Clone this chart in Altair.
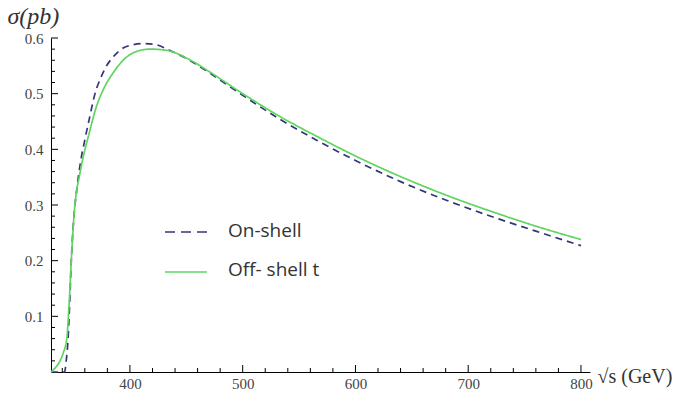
import altair as alt
import pandas as pd

# On-shell (dashed) curve: sqrt(s) [GeV] and sigma [pb]
on_x = [330, 340, 342, 343.5, 345, 346.5, 348, 350, 353, 356, 360, 364, 369, 374, 379, 386,
        394, 403, 412, 423, 435, 453, 470, 500, 533, 566, 600, 640, 680, 727, 760, 800]
on_y = [0.0, 0.0, 0.0, 0.02, 0.055, 0.12, 0.2, 0.27, 0.33, 0.375, 0.417, 0.455, 0.50, 0.528,
        0.549, 0.568, 0.582, 0.588, 0.590, 0.588, 0.578, 0.560, 0.538, 0.497, 0.454, 0.416,
        0.380, 0.342, 0.309, 0.275, 0.253, 0.227]

# Off-shell t (solid green) curve
off_x = [330, 334, 338, 341, 344, 346, 348, 350, 352, 355, 359, 364, 370, 377, 385, 395, 406,
         418, 432, 453, 470, 500, 533, 566, 600, 640, 680, 727, 760, 800]
off_y = [0.0, 0.008, 0.02, 0.035, 0.06, 0.12, 0.2, 0.27, 0.315, 0.35, 0.39, 0.43, 0.475, 0.51,
         0.537, 0.562, 0.576, 0.580, 0.578, 0.561, 0.540, 0.500, 0.459, 0.423, 0.388, 0.351,
         0.318, 0.284, 0.262, 0.238]

series = ["On-shell", "Off- shell t"]
colors = ["#33377a", "#5fd45f"]

x_major = [400, 500, 600, 700, 800]
x_minor = [340, 360, 380, 420, 440, 460, 480, 520, 540, 560, 580, 620, 640, 660, 680,
           720, 740, 760, 780]
y_major = [0.1, 0.2, 0.3, 0.4, 0.5, 0.6]
y_minor = [0.02, 0.04, 0.06, 0.08, 0.12, 0.14, 0.16, 0.18, 0.22, 0.24, 0.26, 0.28,
           0.32, 0.34, 0.36, 0.38, 0.42, 0.44, 0.46, 0.48, 0.52, 0.54, 0.56, 0.58]

df = pd.concat([
    pd.DataFrame({"x": on_x, "y": on_y, "series": series[0]}),
    pd.DataFrame({"x": off_x, "y": off_y, "series": series[1]}),
])

W, H = 539, 334
xs = alt.Scale(domain=[330, 808], nice=False, zero=False)
ys = alt.Scale(domain=[0, 0.6], nice=False)

serif = "Liberation Serif"

lines = alt.Chart(df).mark_line(interpolate="monotone", strokeWidth=1.7).encode(
    x=alt.X("x:Q", scale=xs, axis=alt.Axis(
        values=x_major, ticks=False, grid=False, domainColor="black", domainWidth=1,
        labelFont=serif, labelFontSize=15, labelColor="#444", labelPadding=4,
        title="√s (GeV)", titleFont=serif, titleFontSize=20, titleFontWeight="normal",
        titleColor="#333", titleAngle=0, titleAlign="left", titleBaseline="alphabetic",
        titleX=W + 7, titleY=10)),
    y=alt.Y("y:Q", scale=ys, axis=alt.Axis(
        values=y_major, ticks=False, grid=False, domainColor="black", domainWidth=1,
        labelFont=serif, labelFontSize=15, labelColor="#444", labelPadding=8,
        format=".1f",
        title="σ(pb)", titleFont=serif, titleFontSize=24, titleFontStyle="italic",
        titleFontWeight="normal", titleColor="#333", titleAngle=0, titleAlign="left",
        titleBaseline="alphabetic", titleX=-44, titleY=-15)),
    color=alt.Color("series:N", scale=alt.Scale(domain=series, range=colors), legend=None),
    strokeDash=alt.StrokeDash("series:N", scale=alt.Scale(domain=series, range=[[7, 5], [1, 0]]),
                              legend=None),
)

ymaj = alt.Chart(pd.DataFrame({"y": y_major})).mark_rule(color="black", strokeWidth=1).encode(
    y=alt.Y("y:Q", scale=ys), x=alt.value(0), x2=alt.value(7))
ymin = alt.Chart(pd.DataFrame({"y": y_minor})).mark_rule(color="black", strokeWidth=1).encode(
    y=alt.Y("y:Q", scale=ys), x=alt.value(0), x2=alt.value(4))
xmaj = alt.Chart(pd.DataFrame({"x": x_major})).mark_rule(color="black", strokeWidth=1).encode(
    x=alt.X("x:Q", scale=xs), y=alt.value(H), y2=alt.value(H - 7))
xmin = alt.Chart(pd.DataFrame({"x": x_minor})).mark_rule(color="black", strokeWidth=1).encode(
    x=alt.X("x:Q", scale=xs), y=alt.value(H), y2=alt.value(H - 4))

leg_font = "Open Sans"
leg1_line = alt.Chart(pd.DataFrame({"s": [series[0]]})).mark_rule(
    color=colors[0], strokeWidth=1.7, strokeDash=[10, 6]).encode(
    x=alt.value(114), x2=alt.value(156), y=alt.value(194))
leg1_text = alt.Chart(pd.DataFrame({"s": [series[0]]})).mark_text(
    align="left", baseline="middle", font=leg_font, fontSize=19, color="#333").encode(
    text="s:N", x=alt.value(177), y=alt.value(193))
leg2_line = alt.Chart(pd.DataFrame({"s": [series[1]]})).mark_rule(
    color=colors[1], strokeWidth=1.7).encode(
    x=alt.value(114), x2=alt.value(156), y=alt.value(234))
leg2_text = alt.Chart(pd.DataFrame({"s": [series[1]]})).mark_text(
    align="left", baseline="middle", font=leg_font, fontSize=19, color="#333").encode(
    text="s:N", x=alt.value(177), y=alt.value(232))

chart = alt.layer(lines, ymaj, ymin, xmaj, xmin, leg1_line, leg1_text, leg2_line, leg2_text).properties(
    width=W, height=H,
    autosize=alt.AutoSizeParams(type="none"),
    padding={"left": 51, "top": 38, "right": 101, "bottom": 29},
    background="white",
).configure_view(stroke=None)

chart.save("out.html", embed_options={"renderer": "svg", "actions": False})
